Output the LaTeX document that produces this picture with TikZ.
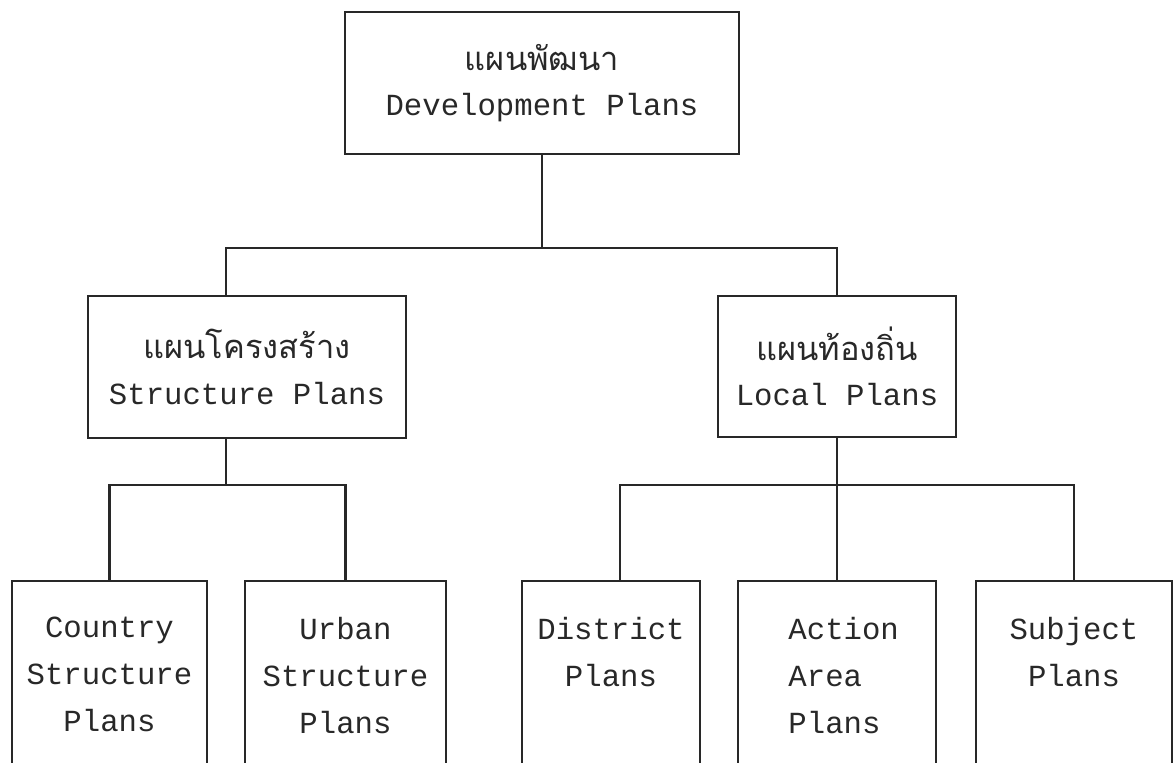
\documentclass[tikz,border=0pt]{standalone}
\usepackage{fontspec}
\setmonofont{Liberation Mono}
\newfontfamily\thaifont[Script=Thai]{Loma}
\usetikzlibrary{positioning}
\definecolor{ink}{RGB}{40,40,40}

\tikzset{every picture/.style={line width=1.6pt}}
\tikzset{
  planbox/.style={draw=ink, text=ink, align=center, inner sep=0pt,
    font=\fontsize{23pt}{34pt}\selectfont\ttfamily},
  leafbox/.style={draw=ink, anchor=north, minimum height=165pt, inner sep=0pt},
  leaftext/.style={text=ink, align=center, inner sep=0pt,
    font=\fontsize{23pt}{35.25pt}\selectfont\ttfamily},
}
\newcommand{\thailine}[1]{{\thaifont\fontsize{24.5pt}{34pt}\selectfont #1}}

\begin{document}
\begin{tikzpicture}[x=0.75pt,y=0.75pt,yscale=-1,xscale=1]
\useasboundingbox (0,0) rectangle (1175,763);

% Upper boxes
\node[planbox, minimum width=295.5pt, minimum height=106.5pt] (dev) at (542,83)
  {\thailine{แผนพัฒนา}\\Development Plans};
\node[planbox, minimum width=238.5pt, minimum height=106.5pt] (struct) at (247,367)
  {\thailine{แผนโครงสร้าง}\\Structure Plans};
\node[planbox, minimum width=178.5pt, minimum height=105.75pt] (local) at (837,366.5)
  {\thailine{แผนท้องถิ่น}\\Local Plans};

% Lower boxes (open at the foot of the page)
\node[leafbox, minimum width=146.25pt] (country) at (109.5,580) {};
\node[leafbox, minimum width=150.75pt] (urban) at (345.5,580) {};
\node[leafbox, minimum width=133.5pt] (district) at (611,580) {};
\node[leafbox, minimum width=148.5pt] (action) at (837,580) {};
\node[leafbox, minimum width=147pt] (subject) at (1074,580) {};

% Text Node
\node[leaftext, below=27pt of country.north] (country-txt) {Country\\Structure\\Plans};
\node[leaftext, below=27pt of urban.north] (urban-txt) {Urban\\Structure\\Plans};
\node[leaftext, below=27pt of district.north] (district-txt) {District\\Plans};
\node[leaftext, align=left, below=27pt of action.north, xshift=5pt] (action-txt) {Action\\Area\\Plans};
\node[leaftext, below=27pt of subject.north] (subject-txt) {Subject\\Plans};

% Connectors
\coordinate (top-split) at (542,248);
\coordinate (struct-split) at (226,485);
\coordinate (local-split) at (837,485);

\draw[ink] (dev.south) -- (top-split);
\draw[ink] ([xshift=-15.75pt]struct.north) |- (top-split) -| (local.north);
\draw[ink] ([xshift=-15.75pt]struct.south) -- (struct-split);
\draw[ink] (country.north) |- (struct-split) -| (urban.north);
\draw[ink] (local.south) -- (action.north);
\draw[ink] ([xshift=6.75pt]district.north) |- (local-split) -| (subject.north);
\end{tikzpicture}
\end{document}
